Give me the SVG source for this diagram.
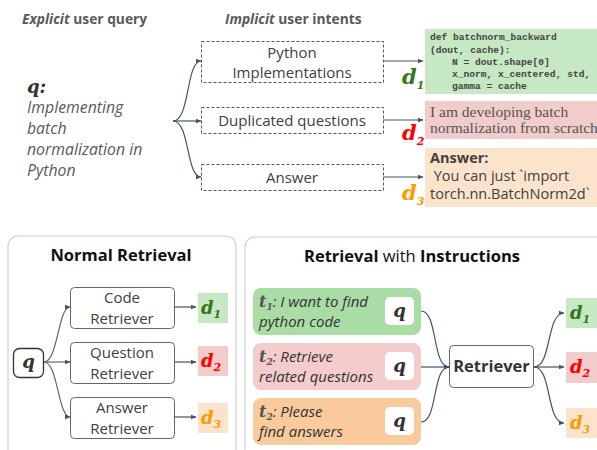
<svg xmlns="http://www.w3.org/2000/svg" width="597" height="450" viewBox="0 0 597 450">
<defs>
<marker id="ah" viewBox="0 0 10 10" refX="9" refY="5" markerWidth="6" markerHeight="6" orient="auto" markerUnits="userSpaceOnUse"><path d="M0,1 L10,5 L0,9 Z" fill="#44546a"/></marker>
<style>
.hd{font-family:"Open Sans",sans-serif;font-size:13.8px;font-weight:bold;fill:#595959}
.qt{font-family:"Open Sans",sans-serif;font-size:15.8px;font-style:italic;fill:#595959}
.bx{font-family:"Open Sans",sans-serif;font-size:15px;fill:#404040;text-anchor:middle}
.dash{fill:#fff;stroke:#555;stroke-width:1;stroke-dasharray:3,2}
.ln{fill:none;stroke:#44546a;stroke-width:1.2}
.lg{fill:none;stroke:#666;stroke-width:1.2}
.code{font-family:"Liberation Mono",monospace;font-size:9.6px;font-weight:bold;fill:#444}
.ser{font-family:"Liberation Serif",serif;font-size:15.5px;fill:#555}
.sans{font-family:"Open Sans",sans-serif;font-size:14.5px;fill:#404040}
.dl{font-family:"DejaVu Serif",serif;font-weight:bold;font-style:italic;font-size:21px}
.dm{font-family:"DejaVu Serif",serif;font-weight:bold;font-style:italic;font-size:18px;text-anchor:middle}
.sub{font-size:11px}
.qv{font-family:"DejaVu Serif",serif;font-weight:bold;font-style:italic;font-size:18px;fill:#333;text-anchor:middle}
.panel{fill:#fff;stroke:#d0d0d0;stroke-width:1.2}
.ptl{font-family:"Open Sans",sans-serif;font-size:16.5px;fill:#111;text-anchor:middle}
.rb{fill:#fff;stroke:#666;stroke-width:1}
.ti{font-family:"Open Sans",sans-serif;font-size:15px;font-style:italic;fill:#333}
.tv{font-family:"DejaVu Serif",serif;font-weight:bold;font-style:italic;fill:#555}
.g{fill:#38761d}.r{fill:#ff0000}.o{fill:#ff9900}
</style>
</defs>
<rect width="597" height="450" fill="#fff"/>

<!-- headers -->
<text class="hd" x="22" y="24"><tspan font-style="italic">Explicit</tspan> user query</text>
<text class="hd" x="225" y="24"><tspan font-style="italic">Implicit</tspan> user intents</text>

<!-- query -->
<g id="query">
<text class="qv" x="27" y="93" style="text-anchor:start">q:</text>
<text class="qt" x="27" y="113">Implementing</text>
<text class="qt" x="27" y="134">batch</text>
<text class="qt" x="27" y="155">normalization in</text>
<text class="qt" x="27" y="176">Python</text>
</g>

<!-- intents -->
<g id="intent-python"><rect class="dash" x="201.5" y="41.5" width="182" height="41"/><text class="bx" x="292" y="58">Python</text><text class="bx" x="292" y="78">Implementations</text></g>
<g id="intent-dup"><rect class="dash" x="201.5" y="107.5" width="182" height="26"/><text class="bx" x="292" y="126">Duplicated questions</text></g>
<g id="intent-ans"><rect class="dash" x="201.5" y="164.5" width="182" height="26"/><text class="bx" x="292" y="183">Answer</text></g>

<!-- docs -->
<g id="doc1">
<rect x="425" y="29" width="172" height="65" fill="#c6e8c2"/>
<text class="code" x="430" y="40">def batchnorm_backward</text>
<text class="code" x="430" y="53">(dout, cache):</text>
<text class="code" x="452" y="65">N = dout.shape[0]</text>
<text class="code" x="452" y="77">x_norm, x_centered, std,</text>
<text class="code" x="452" y="89">gamma = cache</text>
<text class="dl g" x="402" y="84">d<tspan class="sub" dy="5">1</tspan></text>
</g>
<g id="doc2">
<rect x="425" y="101" width="172" height="38" fill="#f2cbcb"/>
<text class="ser" x="430" y="117">I am developing batch</text>
<text class="ser" x="430" y="133">normalization from scratch</text>
<text class="dl r" x="402" y="140">d<tspan class="sub" dy="5">2</tspan></text>
</g>
<g id="doc3">
<rect x="425" y="148" width="172" height="59" fill="#fce4cc"/>
<text class="sans" x="430" y="163" font-weight="bold">Answer:</text>
<text class="sans" x="430" y="181" xml:space="preserve"> You can just `import</text>
<text class="sans" x="430" y="199">torch.nn.BatchNorm2d`</text>
<text class="dl o" x="402" y="200">d<tspan class="sub" dy="5">3</tspan></text>
</g>

<!-- bottom left panel -->
<g id="normal-panel">
<rect class="panel" x="8" y="236" width="228" height="240" rx="10"/>
<text class="ptl" x="121" y="261" font-weight="bold">Normal Retrieval</text>
</g>
<g id="nq"><rect x="13.5" y="348.5" width="30" height="29" rx="6" fill="#fff" stroke="#333" stroke-width="1.3"/><text class="qv" x="28.5" y="368">q</text></g>
<g id="code-ret"><rect class="rb" x="70.5" y="287.5" width="104" height="41" rx="4"/><text class="bx" x="122" y="303">Code</text><text class="bx" x="122" y="324">Retriever</text></g>
<g id="q-ret"><rect class="rb" x="70.5" y="342.5" width="104" height="41" rx="4"/><text class="bx" x="122" y="358">Question</text><text class="bx" x="122" y="379">Retriever</text></g>
<g id="a-ret"><rect class="rb" x="70.5" y="397.5" width="104" height="41" rx="4"/><text class="bx" x="122" y="413">Answer</text><text class="bx" x="122" y="434">Retriever</text></g>
<g id="nd1"><rect x="198" y="293" width="30" height="30" fill="#c6e8c2"/><text class="dm g" x="211" y="314">d<tspan class="sub" dy="4">1</tspan></text></g>
<g id="nd2"><rect x="198" y="346" width="30" height="30" fill="#f2cbcb"/><text class="dm r" x="211" y="367">d<tspan class="sub" dy="4">2</tspan></text></g>
<g id="nd3"><rect x="198" y="403" width="30" height="30" fill="#fce4cc"/><text class="dm o" x="211" y="424">d<tspan class="sub" dy="4">3</tspan></text></g>

<!-- bottom right panel -->
<g id="instr-panel">
<rect class="panel" x="245" y="237" width="370" height="240" rx="10"/>
<text class="ptl" x="412" y="262"><tspan font-weight="bold">Retrieval</tspan> with <tspan font-weight="bold">Instructions</tspan></text>
</g>
<g id="t1"><rect x="253" y="288" width="168" height="47" rx="8" fill="#aadca6"/>
<rect x="385" y="297" width="29" height="28" rx="5" fill="#fff"/><text class="qv" x="399.5" y="317">q</text>
<text class="ti" x="259" y="307"><tspan class="tv" font-size="16">t<tspan font-size="9" dy="3">1</tspan></tspan><tspan dy="-3">: I want to find</tspan></text>
<text class="ti" x="259" y="327">python code</text></g>
<g id="t2"><rect x="253" y="343" width="168" height="47" rx="8" fill="#f4cccc"/>
<rect x="385" y="352" width="29" height="28" rx="5" fill="#fff"/><text class="qv" x="399.5" y="372">q</text>
<text class="ti" x="259" y="362"><tspan class="tv" font-size="16">t<tspan font-size="9" dy="3">2</tspan></tspan><tspan dy="-3">: Retrieve</tspan></text>
<text class="ti" x="259" y="382">related questions</text></g>
<g id="t3"><rect x="253" y="398" width="168" height="47" rx="8" fill="#f9cb9c"/>
<rect x="385" y="407" width="29" height="28" rx="5" fill="#fff"/><text class="qv" x="399.5" y="427">q</text>
<text class="ti" x="259" y="417"><tspan class="tv" font-size="16">t<tspan font-size="9" dy="3">2</tspan></tspan><tspan dy="-3">: Please</tspan></text>
<text class="ti" x="259" y="437">find answers</text></g>
<g id="retriever"><rect class="rb" x="449.5" y="345.5" width="84" height="42" rx="4"/><text class="ptl" x="491.5" y="372" font-weight="bold" style="fill:#333">Retriever</text></g>
<g id="rd1"><rect x="566" y="298" width="31" height="30" fill="#c6e8c2"/><text class="dm g" x="580" y="319">d<tspan class="sub" dy="4">1</tspan></text></g>
<g id="rd2"><rect x="566" y="352" width="31" height="31" fill="#f2cbcb"/><text class="dm r" x="580" y="373">d<tspan class="sub" dy="4">2</tspan></text></g>
<g id="rd3"><rect x="566" y="408" width="31" height="30" fill="#fce4cc"/><text class="dm o" x="580" y="429">d<tspan class="sub" dy="4">3</tspan></text></g>

<!-- connectors -->
<g id="connectors">
<path class="ln" d="M173,121 C190,121 186,61 201,61" marker-end="url(#ah)"/>
<path class="ln" d="M173,121 L201,121" marker-end="url(#ah)"/>
<path class="ln" d="M173,121 C190,121 186,177 201,177" marker-end="url(#ah)"/>
<path class="ln" d="M383,61 L423,61" marker-end="url(#ah)"/>
<path class="ln" d="M383,120 L423,120" marker-end="url(#ah)"/>
<path class="ln" d="M383,177 L423,177" marker-end="url(#ah)"/>

<path class="lg" d="M44,362 C58,362 58,307 70,307" marker-end="url(#ah)"/>
<path class="lg" d="M44,362 L70,362" marker-end="url(#ah)"/>
<path class="lg" d="M44,362 C58,362 58,417 70,417" marker-end="url(#ah)"/>
<path class="ln" d="M174,307 L196,307" marker-end="url(#ah)"/>
<path class="ln" d="M174,362 L196,362" marker-end="url(#ah)"/>
<path class="ln" d="M174,417 L196,417" marker-end="url(#ah)"/>

<path class="ln" d="M421,311 C438,311 432,367 449,367" marker-end="url(#ah)"/>
<path class="ln" d="M421,367 L449,367" marker-end="url(#ah)"/>
<path class="ln" d="M421,422 C438,422 432,367 449,367" marker-end="url(#ah)"/>
<path class="ln" d="M534,367 C552,367 546,313 564,313" marker-end="url(#ah)"/>
<path class="ln" d="M534,367 L564,367" marker-end="url(#ah)"/>
<path class="ln" d="M534,367 C552,367 546,423 564,423" marker-end="url(#ah)"/>
</g>
</svg>
